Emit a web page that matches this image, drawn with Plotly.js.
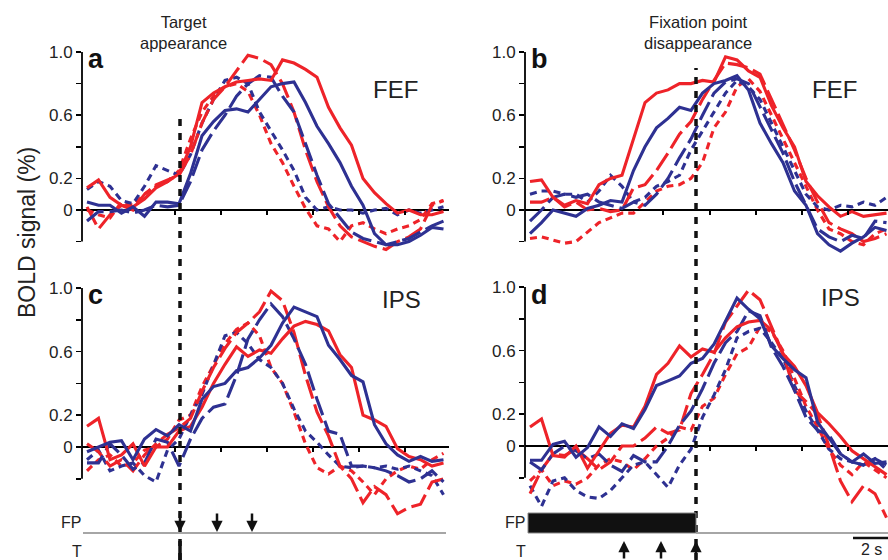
<!DOCTYPE html>
<html><head><meta charset="utf-8">
<script src="https://cdn.plot.ly/plotly-3.0.1.min.js"></script>
<style>html,body{margin:0;padding:0;background:#fff}#g{width:888px;height:560px}</style>
</head><body><div id="g"></div>
<script>
// time samples (s)
const tAC = [-4,-3.5,-3,-2.5,-2,-1.5,-1,-0.5,0,0.5,1,1.5,2,2.5,3,3.5,4,4.5,5,5.5,6,6.5,7,7.5,8,8.5,9,9.5,10,10.5,11,11.5];
const tBD = [-7,-6.5,-6,-5.5,-5,-4.5,-4,-3.5,-3,-2.5,-2,-1.5,-1,-0.5,0,0.5,1,1.5,2,2.5,3,3.5,4,4.5,5,5.5,6,6.5,7,7.5,8,8.5];

// panel a (FEF, target appearance)
const RS_a = [0.14,0.19,0.08,0.03,0.02,0.07,0.14,0.18,0.23,0.40,0.68,0.74,0.78,0.81,0.82,0.83,0.82,0.95,0.93,0.89,0.84,0.65,0.52,0.41,0.20,0.11,0.04,-0.02,0.00,-0.03,-0.03,-0.01];
const RL_a = [0.02,-0.12,-0.03,0.03,0.00,0.10,0.16,0.19,0.22,0.35,0.55,0.70,0.78,0.88,0.98,0.96,0.92,0.80,0.62,0.38,0.18,0.02,-0.10,-0.17,-0.20,-0.23,-0.25,-0.20,-0.17,-0.12,0.03,0.06];
const RD_a = [0.00,-0.03,-0.05,0.05,0.03,0.10,0.15,0.18,0.25,0.45,0.62,0.72,0.78,0.80,0.75,0.60,0.42,0.30,0.15,0.01,-0.10,-0.12,-0.20,-0.10,-0.08,-0.12,-0.15,-0.12,-0.10,-0.06,0.04,0.06];
const BS_a = [0.05,0.03,0.03,-0.02,0.02,-0.04,0.05,0.05,0.04,0.23,0.47,0.56,0.63,0.64,0.62,0.70,0.78,0.80,0.81,0.68,0.53,0.42,0.30,0.15,0.03,-0.15,-0.22,-0.22,-0.20,-0.16,-0.11,-0.12];
const BL_a = [-0.07,-0.01,-0.01,0.00,-0.02,0.00,0.03,0.02,0.03,0.18,0.38,0.50,0.60,0.72,0.80,0.85,0.84,0.72,0.62,0.42,0.22,0.04,-0.05,-0.14,-0.18,-0.20,-0.22,-0.20,-0.18,-0.14,-0.10,-0.07];
const BD_a = [0.13,0.18,0.15,0.06,0.04,0.15,0.28,0.25,0.22,0.35,0.55,0.70,0.82,0.84,0.80,0.62,0.50,0.38,0.25,0.08,0.00,0.02,0.00,0.00,-0.02,0.00,0.01,-0.03,0.00,-0.02,0.00,0.02];

// panel b (FEF, fixation point disappearance)
const RS_b = [0.18,0.19,0.08,0.03,0.06,0.04,0.16,0.20,0.22,0.45,0.68,0.74,0.76,0.80,0.80,0.82,0.81,0.97,0.95,0.88,0.84,0.66,0.52,0.40,0.18,0.09,0.02,-0.04,-0.01,-0.04,-0.03,-0.02];
const RL_b = [0.05,0.05,0.08,0.02,0.05,0.00,0.01,-0.01,0.00,0.14,0.16,0.25,0.36,0.48,0.56,0.70,0.82,0.93,0.92,0.90,0.86,0.70,0.55,0.38,0.20,0.05,-0.08,-0.12,-0.15,-0.20,-0.18,-0.15];
const RD_b = [-0.18,-0.17,-0.19,-0.21,-0.20,-0.14,-0.08,-0.05,-0.02,-0.02,0.05,0.12,0.15,0.16,0.20,0.30,0.52,0.62,0.78,0.83,0.75,0.60,0.45,0.30,0.15,0.00,-0.12,-0.15,-0.20,-0.22,-0.15,-0.12];
const BS_b = [-0.15,-0.08,0.00,-0.02,-0.04,0.01,0.03,0.06,0.05,0.25,0.40,0.52,0.58,0.65,0.63,0.74,0.80,0.82,0.85,0.76,0.55,0.42,0.30,0.12,0.03,-0.15,-0.22,-0.26,-0.21,-0.17,-0.11,-0.13];
const BL_b = [-0.07,0.00,0.08,0.10,0.08,0.10,0.05,0.03,0.01,0.05,0.03,0.10,0.20,0.33,0.45,0.60,0.74,0.81,0.83,0.80,0.65,0.50,0.36,0.18,0.03,-0.12,-0.17,-0.20,-0.16,-0.18,-0.07,-0.08];
const BD_b = [0.10,0.12,0.12,0.10,0.10,0.05,0.12,0.22,0.15,0.05,0.08,0.15,0.18,0.22,0.38,0.50,0.62,0.74,0.82,0.78,0.70,0.55,0.40,0.25,0.10,0.02,0.00,0.03,0.02,0.05,0.03,0.08];

// panel c (IPS, target appearance)
const RS_c = [0.13,0.18,-0.08,-0.05,0.02,-0.12,0.00,0.00,0.10,0.13,0.25,0.40,0.52,0.63,0.57,0.61,0.59,0.68,0.76,0.79,0.77,0.73,0.58,0.50,0.20,0.17,0.13,-0.01,-0.06,-0.08,-0.12,-0.10];
const RL_c = [0.02,-0.03,-0.12,-0.08,-0.15,-0.05,0.02,0.08,0.12,0.18,0.35,0.50,0.62,0.72,0.78,0.85,0.98,0.92,0.72,0.45,0.22,0.07,-0.12,-0.20,-0.35,-0.25,-0.30,-0.42,-0.38,-0.36,-0.22,-0.20];
const RD_c = [-0.15,-0.08,-0.05,-0.12,-0.10,-0.02,0.00,0.05,0.17,0.20,0.38,0.52,0.65,0.74,0.78,0.70,0.50,0.40,0.22,0.02,-0.13,-0.17,-0.12,-0.15,-0.22,-0.30,-0.20,-0.15,-0.12,-0.14,-0.08,-0.04];
const BS_c = [-0.03,0.00,0.03,0.04,-0.08,0.05,0.11,0.07,0.14,0.10,0.30,0.38,0.40,0.48,0.50,0.56,0.64,0.78,0.88,0.85,0.82,0.64,0.55,0.45,0.41,0.14,0.02,-0.05,-0.09,-0.06,-0.09,-0.08];
const BL_c = [-0.10,-0.10,0.02,-0.05,-0.14,-0.10,0.05,0.03,-0.12,0.05,0.18,0.25,0.27,0.45,0.68,0.80,0.90,0.82,0.68,0.52,0.30,0.10,0.08,-0.12,-0.12,-0.13,-0.15,-0.18,-0.22,-0.20,-0.15,-0.22];
const BD_c = [-0.08,-0.02,-0.15,-0.12,-0.10,-0.18,-0.22,-0.02,0.05,0.20,0.33,0.52,0.70,0.72,0.65,0.55,0.50,0.40,0.24,0.10,0.03,-0.05,-0.12,-0.13,-0.12,-0.13,-0.12,-0.14,-0.12,-0.15,-0.18,-0.30];

// panel d (IPS, fixation point disappearance)
const RS_d = [0.12,0.17,-0.06,-0.07,0.00,-0.14,-0.03,0.08,0.13,0.12,0.25,0.45,0.52,0.63,0.56,0.61,0.59,0.68,0.75,0.78,0.79,0.73,0.58,0.50,0.38,0.21,0.14,0.06,-0.03,-0.08,-0.13,-0.18];
const RL_d = [-0.30,-0.15,-0.05,-0.06,-0.02,-0.08,-0.15,-0.10,0.00,0.00,0.05,0.12,0.08,0.10,0.33,0.45,0.58,0.78,0.88,0.98,0.92,0.75,0.58,0.35,0.28,0.20,0.00,-0.22,-0.35,-0.25,-0.30,-0.45];
const RD_d = [-0.22,-0.15,-0.25,-0.22,-0.24,-0.20,-0.12,-0.08,-0.10,-0.15,-0.08,0.00,0.05,0.12,0.10,0.25,0.30,0.45,0.58,0.62,0.75,0.72,0.60,0.42,0.25,0.12,-0.02,-0.12,-0.18,-0.10,-0.15,-0.20];
const BS_d = [-0.09,-0.09,0.01,0.03,-0.07,-0.01,0.12,0.06,0.14,0.11,0.23,0.38,0.41,0.44,0.52,0.55,0.64,0.78,0.93,0.86,0.80,0.63,0.55,0.48,0.43,0.15,0.05,-0.05,-0.10,-0.05,-0.11,-0.10];
const BL_d = [-0.10,-0.15,-0.05,0.00,-0.03,-0.08,-0.05,-0.12,-0.16,-0.06,-0.10,-0.10,0.00,0.13,0.22,0.36,0.52,0.65,0.72,0.85,0.82,0.62,0.50,0.35,0.18,0.10,0.07,-0.05,-0.10,-0.12,-0.08,-0.12];
const BD_d = [-0.25,-0.38,-0.22,-0.20,-0.28,-0.32,-0.33,-0.28,-0.20,-0.12,-0.10,-0.18,-0.26,-0.12,-0.02,0.18,0.32,0.48,0.68,0.72,0.74,0.65,0.55,0.38,0.22,0.10,-0.02,-0.08,-0.10,-0.12,-0.08,-0.15];

const yTickVals = [-0.2,0,0.2,0.4,0.6,0.8,1.0];
const yTickText = ['','0','0.2','','0.6','','1.0'];

const W = 888, H = 560;
const fx = p => p / W, fy = p => 1 - p / H;
const RED = '#ee2329', BLUE = '#2e3192';
const DASH_L = '20px,6px', DASH_S = '7px,5px';

const panels = [
  {xa:'x',  ya:'y',  left:82,  right:449, tOff:179, zeroPy:210, ppu:158, yr:[-0.35,1.1], xt:[-0.17,1.83,3.83,5.83,7.83,9.83], t:tAC,
   s:[RD_a,BD_a,RL_a,BL_a,RS_a,BS_a]},
  {xa:'x2', ya:'y2', left:525, right:888, tOff:691, zeroPy:210, ppu:158, yr:[-0.35,1.1], xt:[-1.22,0.83,2.83,4.83,6.83], t:tBD,
   s:[RD_b,BD_b,RL_b,BL_b,RS_b,BS_b]},
  {xa:'x3', ya:'y3', left:82,  right:449, tOff:179, zeroPy:447, ppu:159, yr:[-0.5,1.1], xt:[-0.17,1.83,3.83,5.83,7.83,9.83], t:tAC,
   s:[RD_c,BD_c,RL_c,BL_c,RS_c,BS_c]},
  {xa:'x4', ya:'y4', left:525, right:888, tOff:691, zeroPy:446, ppu:159, yr:[-0.55,1.1], xt:[-1.22,0.83,2.83,4.83,6.83], t:tBD,
   s:[RD_d,BD_d,RL_d,BL_d,RS_d,BS_d]}
];
const styles = [[RED,DASH_S],[BLUE,DASH_S],[RED,DASH_L],[BLUE,DASH_L],[RED,'solid'],[BLUE,'solid']];

const data = [];
const layout = {
  width:W, height:H, margin:{l:0,r:0,t:0,b:0}, showlegend:false,
  paper_bgcolor:'#fff', plot_bgcolor:'rgba(0,0,0,0)',
  font:{family:'Liberation Sans, Arial, sans-serif', color:'#222'},
  shapes:[], annotations:[]
};

panels.forEach((p,k) => {
  p.s.forEach((ser,j) => {
    data.push({x:p.t, y:ser, xaxis:p.xa, yaxis:p.ya, mode:'lines', hoverinfo:'skip',
      line:{color:styles[j][0], width:3.1, dash:styles[j][1]}});
  });
  const xKey = 'xaxis' + (k ? k+1 : ''), yKey = 'yaxis' + (k ? k+1 : '');
  const top = p.zeroPy - p.yr[1]*p.ppu, bot = p.zeroPy - p.yr[0]*p.ppu;
  layout[xKey] = {domain:[fx(p.left), fx(p.right)], range:[(p.left-p.tOff)/23,(p.right-p.tOff)/23],
    anchor:'free', position:fy(p.zeroPy), showgrid:false, zeroline:false, showline:false,
    ticks:'outside', ticklen:4, tickwidth:1.5, tickcolor:'#000', tickvals:p.xt, showticklabels:false, fixedrange:true};
  layout[yKey] = {domain:[fy(bot), fy(top)], range:p.yr, anchor:p.xa, showgrid:false,
    zeroline:true, zerolinecolor:'#000', zerolinewidth:1.6, showline:false,
    ticks:'outside', ticklen:5, tickwidth:1.5, tickcolor:'#000',
    tickvals:yTickVals, ticktext:yTickText, tickfont:{size:17, color:'#222'}, fixedrange:true};
  layout.shapes.push({type:'line', xref:'paper', yref:p.ya, x0:fx(p.left), x1:fx(p.left), y0:-0.2, y1:1.0,
    line:{color:'#000', width:1.8}});
});

// event lines
layout.shapes.push({type:'line', xref:'paper', yref:'paper', x0:fx(180), x1:fx(180), y0:0, y1:fy(112), line:{color:'#111', width:3.5, dash:'7px,7px'}});
layout.shapes.push({type:'line', xref:'paper', yref:'paper', x0:fx(696), x1:fx(696), y0:0, y1:fy(68), line:{color:'#111', width:3.5, dash:'7px,7px'}});
// FP / T rows
layout.shapes.push({type:'line', xref:'paper', yref:'paper', x0:fx(83), x1:fx(446), y0:fy(533), y1:fy(533), line:{color:'#888', width:1.5}});
layout.shapes.push({type:'line', xref:'paper', yref:'paper', x0:fx(180), x1:fx(180), y0:fy(560), y1:fy(541), line:{color:'#111', width:3.5}});
layout.shapes.push({type:'rect', xref:'paper', yref:'paper', x0:fx(528), x1:fx(696), y0:fy(533), y1:fy(513), fillcolor:'#111', line:{color:'#888', width:1}});
layout.shapes.push({type:'line', xref:'paper', yref:'paper', x0:fx(696), x1:fx(888), y0:fy(533), y1:fy(533), line:{color:'#888', width:1.5}});
layout.shapes.push({type:'line', xref:'paper', yref:'paper', x0:fx(853), x1:fx(888), y0:fy(538), y1:fy(538), line:{color:'#111', width:2.5}});

const A = layout.annotations;
const txt = (t,x,y,size,extra) => A.push(Object.assign({text:t, x:fx(x), y:fy(y), xref:'paper', yref:'paper', showarrow:false,
  xanchor:'center', yanchor:'middle', font:{size:size, color:'#222'}}, extra||{}));
txt('Target<br>appearance', 183, 32, 16.5);
txt('Fixation point<br>disappearance', 698, 32, 16.5);
txt('FEF', 395, 90, 24);
txt('FEF', 834, 90, 24);
txt('IPS', 401, 299, 24);
txt('IPS', 840, 297, 24);
txt('<b>a</b>', 86, 59, 27, {xanchor:'left', font:{size:27, color:'#111'}});
txt('<b>b</b>', 529, 59, 27, {xanchor:'left', font:{size:27, color:'#111'}});
txt('<b>c</b>', 86, 295, 27, {xanchor:'left', font:{size:27, color:'#111'}});
txt('<b>d</b>', 529, 295, 27, {xanchor:'left', font:{size:27, color:'#111'}});
txt('BOLD signal (%)', 27, 233, 23, {textangle:-90});
txt('FP', 71, 522, 16);
txt('T', 77, 551, 16);
txt('FP', 515, 522, 16);
txt('T', 521, 551, 16);
txt('2 s', 871, 549, 16);

// arrows
[180,217,252].forEach(px => A.push({text:'', x:fx(px), y:fy(532), xref:'paper', yref:'paper', showarrow:true,
  ax:0, ay:-20, axref:'pixel', ayref:'pixel', arrowhead:2, arrowsize:0.9, arrowwidth:2.5, arrowcolor:'#111', standoff:0}));
[624,661,696].forEach(px => A.push({text:'', x:fx(px), y:fy(541), xref:'paper', yref:'paper', showarrow:true,
  ax:0, ay:21, axref:'pixel', ayref:'pixel', arrowhead:2, arrowsize:0.9, arrowwidth:2.5, arrowcolor:'#111', standoff:0}));

Plotly.newPlot('g', data, layout, {staticPlot:true, displayModeBar:false});
</script></body></html>
